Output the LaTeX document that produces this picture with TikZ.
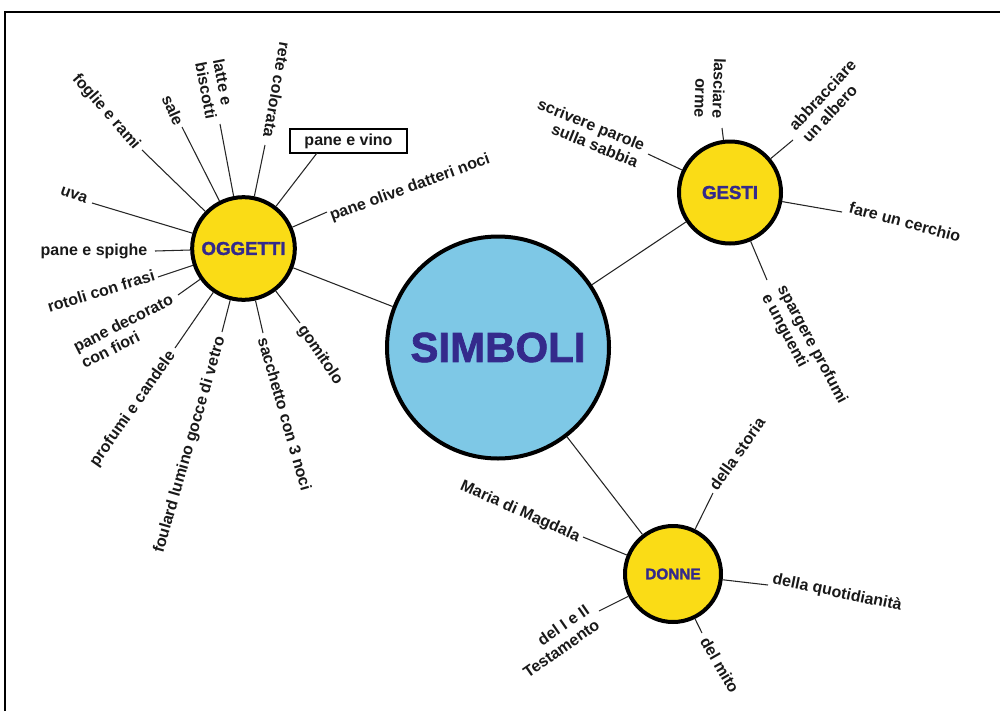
\documentclass[tikz,border=0pt]{standalone}
\usepackage{fontspec}
\setmainfont{Liberation Sans}
\newfontfamily\heavyfont{Liberation Sans Bold}[FakeBold=1.6]
\definecolor{hubyellow}{RGB}{250,220,22}
\definecolor{hubblue}{RGB}{126,200,230}
\definecolor{hubtext}{RGB}{52,42,140}
\definecolor{labtext}{RGB}{25,25,25}
\tikzset{
  hub/.style={circle, draw=black, line width=3pt, inner sep=0pt, fill=hubyellow, text=hubtext},
  lab/.style={font=\bfseries\fontsize{12}{13.5}\selectfont, inner sep=0pt, text=labtext},
  conn/.style={draw=black!85, line width=0.8pt},
}
\begin{document}
\begin{tikzpicture}[x=0.75pt,y=-0.75pt]
\useasboundingbox (0,0) rectangle (1000,711);
\draw[line width=1.5pt] (5,711) -- (5,12) -- (1000,12);

% hubs
\node[hub, fill=hubblue, minimum size=166.5pt, font=\heavyfont\fontsize{31.5}{34}\selectfont] (simboli) at (498,347.5) {SIMBOLI};
\node[hub, minimum size=77pt, font=\heavyfont\fontsize{14}{16}\selectfont] (oggetti) at (243.5,248.5) {OGGETTI};
\node[hub, minimum size=76.5pt, font=\heavyfont\fontsize{14}{16}\selectfont] (gesti) at (730,192.5) {GESTI};
\node[hub, minimum size=72pt, font=\heavyfont\fontsize{11.5}{13}\selectfont] (donne) at (673,574) {DONNE};

\draw[conn] (simboli) -- (oggetti);
\draw[conn] (simboli) -- (gesti);
\draw[conn] (simboli) -- (donne);

% OGGETTI labels
\node[lab, rotate=-49] (foglie) at (106,112) {foglie e rami};
\coordinate (foglie-e) at (142,150);
\node[lab, rotate=-66] (sale) at (173,110) {sale};
\coordinate (sale-e) at (182,127);
\node[lab, rotate=-79, align=left] (latte) at (215,89) {latte e\\biscotti};
\coordinate (latte-e) at (220,124);
\node[lab, rotate=-100] (rete) at (277,90) {rete colorata};
\coordinate (rete-e) at (265,145);
\node[lab, draw=black, line width=1.2pt, minimum width=87.75pt, minimum height=18pt] (vino) at (348.5,141) {pane e vino};
\coordinate (vino-e) at (317,153);
\node[lab, rotate=20] (olive) at (410,188) {pane olive datteri noci};
\coordinate (olive-e) at (327,212);
\node[lab, rotate=-20] (uva) at (74,195) {uva};
\coordinate (uva-e) at (92,203);
\node[lab] (spighe) at (94,251) {pane e spighe};
\coordinate (spighe-e) at (155,251);
\node[lab, rotate=17] (rotoli) at (101,291) {rotoli con frasi};
\coordinate (rotoli-e) at (158,277);
\node[lab, rotate=27, align=left] (decorato) at (127,331) {pane decorato\\con fiori};
\coordinate (decorato-e) at (178,295);
\node[lab, rotate=55] (profumi) at (133,409) {profumi e candele};
\coordinate (profumi-e) at (175,348);
\node[lab, rotate=74] (foulard) at (190,445) {foulard lumino gocce di vetro};
\coordinate (foulard-e) at (222,332);
\node[lab, rotate=-74] (sacchetto) at (285,414) {sacchetto con 3 noci};
\coordinate (sacchetto-e) at (263,333);
\node[lab, rotate=-56] (gomitolo) at (320,355) {gomitolo};
\coordinate (gomitolo-e) at (300,323);

\foreach \n in {foglie,sale,latte,rete,vino,olive,uva,spighe,rotoli,decorato,profumi,foulard,sacchetto,gomitolo}
  \draw[conn] (\n-e) -- (oggetti);

% GESTI labels
\node[lab, rotate=-22, align=right] (scrivere) at (588,133) {scrivere parole\\sulla sabbia};
\coordinate (scrivere-e) at (648,154);
\node[lab, rotate=-92, align=right] (lasciare) at (710,88) {lasciare\\orme};
\coordinate (lasciare-e) at (722,128);
\node[lab, rotate=47, align=left] (abbracciare) at (829,101) {abbracciare\\un albero};
\coordinate (abbracciare-e) at (793,140);
\node[lab, rotate=-15] (cerchio) at (905,222) {fare un cerchio};
\coordinate (cerchio-e) at (842,212);
\node[lab, rotate=-62, align=left] (spargere) at (804,349) {spargere profumi\\e unguenti};
\coordinate (spargere-e) at (767,280);

\foreach \n in {scrivere,lasciare,abbracciare,cerchio,spargere}
  \draw[conn] (\n-e) -- (gesti);

% DONNE labels
\node[lab, rotate=55] (storia) at (737,454) {della storia};
\coordinate (storia-e) at (713,493);
\node[lab, rotate=-12] (quotidianita) at (837,593) {della quotidianità};
\coordinate (quotidianita-e) at (768,585);
\node[lab, rotate=-60] (mito) at (720,665) {del mito};
\coordinate (mito-e) at (702,633);
\node[lab, rotate=35, align=right] (testamento) at (556,641) {del I e II\\Testamento};
\coordinate (testamento-e) at (599,611);
\node[lab, rotate=-24] (maria) at (520,512) {Maria di Magdala};
\coordinate (maria-e) at (583,537);

\foreach \n in {storia,quotidianita,mito,testamento,maria}
  \draw[conn] (\n-e) -- (donne);
\end{tikzpicture}
\end{document}
